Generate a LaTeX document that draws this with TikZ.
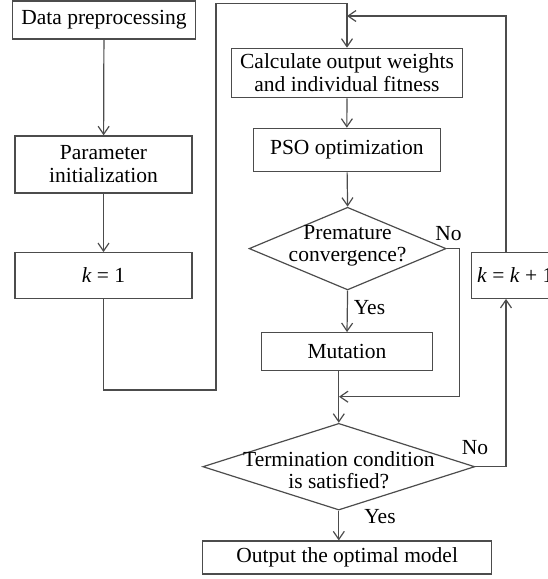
\documentclass[tikz,border=0pt]{standalone}
\usepackage{fontspec}
\setmainfont{Liberation Serif}
\usetikzlibrary{shapes.geometric, arrows.meta}

\begin{document}
\begin{tikzpicture}[
    x=1pt, y=-1pt,
    box/.style={draw=black!70, line width=1.2pt, inner sep=0pt, align=center, font=\fontsize{21.5}{23}\selectfont},
    dec/.style={diamond, draw=black!70, line width=1.2pt, inner sep=0pt},
    txt/.style={align=center, font=\fontsize{21.5}{22}\selectfont},
    lbl/.style={font=\fontsize{21.5}{22}\selectfont},
    arr/.style={draw=black!70, line width=1.2pt, -{Straight Barb[length=8pt, width=11pt]}},
]
\useasboundingbox (0,0) rectangle (548,579);
\clip (0,0) rectangle (548,579);

% Left column
\node[box, minimum width=183pt, minimum height=38pt] (dp) at (104,20) {Data preprocessing};
\node[box, minimum width=177pt, minimum height=57pt] (param) at (103.5,164.4) {Parameter\\initialization};
\node[box, minimum width=177pt, minimum height=45.6pt] (k1) at (103.5,275.5) {\itshape k\/\upshape{} = 1};

\draw[arr] (dp) -- (param);
\draw[arr] (param) -- (k1);

% Main column
\node[box, minimum width=230.6pt, minimum height=49.4pt] (calc) at (347,73) {Calculate output weights\\and individual fitness};
\node[box, minimum width=187pt, minimum height=43.4pt] (pso) at (346.8,150) {PSO optimization};
\node[dec, minimum width=197pt, minimum height=82.7pt] (prem) at (347.6,248.6) {};
\node[txt] (premtxt) at (347.6,246) {Premature\\convergence?};
\node[box, minimum width=171.3pt, minimum height=38pt] (mut) at (347,351.7) {Mutation};
\node[dec, minimum width=272pt, minimum height=86.7pt] (term) at (338.8,466.7) {};
\node[txt] (termtxt) at (338.8,470) {Termination condition\\is satisfied?};
\node[box, minimum width=289pt, minimum height=33pt] (out) at (347.2,557.5) {Output the optimal model};

% Counter box (runs off the right edge)
\node[box, anchor=west, minimum width=88pt, minimum height=45.6pt] (kk1) at (470.7,275.5) {\itshape k\/\upshape{} = \itshape k\/\upshape{} + 1};

\coordinate (merge) at (339,396.7);
\coordinate (up) at (506,466.7);
\coordinate (fb) at (347,16);

\draw[arr] (k1.south) |- (216,390) -- (216,3.3) -| (calc.north);
\draw[arr] (calc) -- (pso);
\draw[arr] (pso) -- (prem.north);
\draw[arr] (prem.south) -- (mut.north);
\draw[arr] (prem.east) -- ++(13,0) |- (merge);
\draw[arr] (mut.south -| term.north) -- (term.north);
\draw[arr] (term.south) -- (term.south |- out.north);
\draw[arr] (term.east) -- (up) -- (up |- kk1.south);
\draw[arr] (up |- kk1.north) |- (fb);

% Branch labels
\node[lbl] (premno) at (448.5,234) {No};
\node[lbl] (premyes) at (369.5,308) {Yes};
\node[lbl] (termno) at (475,448) {No};
\node[lbl] (termyes) at (380,516.7) {Yes};

\end{tikzpicture}
\end{document}
